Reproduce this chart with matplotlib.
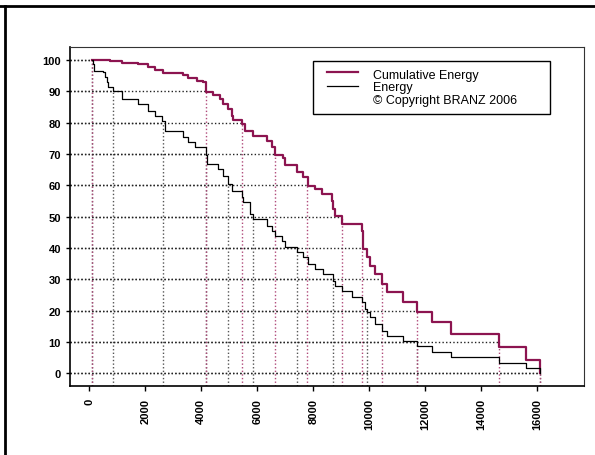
import numpy as np
import matplotlib.pyplot as plt
from matplotlib.lines import Line2D
from matplotlib.patches import Rectangle

plt.rcParams['font.family'] = ['Liberation Sans', 'DejaVu Sans']

# cumulative energy curve (step positions, value after each step)
cum_x = [107, 740, 1160, 1740, 2100, 2350, 2630, 3350, 3530, 3850, 4050, 4170,
         4420, 4670, 4780, 4960, 5100, 5140, 5450, 5565, 5850, 6350, 6520, 6640,
         6920, 7000, 7420, 7650, 7800, 8070, 8300, 8660, 8720, 8780, 9020, 9730,
         9790, 9914, 10033, 10212, 10451, 10629, 11222, 11701, 12237, 12916,
         14643, 15608, 16108]
cum_y = [100, 99.7, 99.0, 98.7, 97.7, 96.9, 95.8, 95.2, 94.3, 93.3, 92.8, 89.9,
         88.9, 87.5, 86.0, 84.4, 82.2, 80.8, 79.6, 77.4, 75.8, 74.2, 72.2, 69.5,
         68.6, 66.3, 64.2, 62.6, 59.8, 58.8, 57.2, 55.1, 52.4, 50.3, 47.6, 45.3,
         39.8, 37.0, 34.3, 31.7, 28.5, 25.9, 22.7, 19.5, 16.3, 12.5,
         8.5, 4.2, 0]

# energy curve
en_x = [107, 143, 179, 500, 561, 622, 679, 836, 1158, 1751, 2109, 2348, 2588,
        2705, 3360, 3538, 3778, 4160, 4196, 4610, 4789, 4968, 5089, 5447, 5504,
        5740, 5861, 6340, 6519, 6637, 6876, 6994, 7412, 7648, 7827, 8067, 8363,
        8721, 8781, 9021, 9378, 9736, 9853, 9914, 10033, 10212, 10451, 10629,
        11222, 11701, 12237, 12916, 14643, 15608, 16108]
en_y = [100, 98.7, 96.6, 96.1, 94.5, 92.9, 91.3, 90.2, 87.6, 86.0, 83.8, 82.2,
        80.6, 77.4, 75.3, 73.7, 72.1, 69.5, 66.8, 65.2, 63.1, 60.4, 58.3, 56.2,
        54.6, 50.8, 49.2, 47.1, 45.5, 43.9, 42.3, 40.2, 38.6, 37.0, 34.9, 33.3,
        31.7, 29.6, 28.0, 26.4, 24.3, 22.7, 20.5, 19.5, 17.9, 15.7, 13.6, 12.0,
        10.4, 8.8, 6.7, 5.1, 3.2, 1.6, 0]

# where each curve reaches the percent levels
levels = [100, 90, 80, 70, 60, 50, 40, 30, 20, 10, 0]
cum_cross = [107, 4170, 5447, 6637, 7798, 9021, 9760, 10447, 11698, 14642, 16108]
en_cross = [107, 836, 2634, 4165, 4968, 5861, 7412, 8721, 9914, 11701, 16108]

purple = '#8c1450'
dot = (0, (1, 1.6))

fig = plt.figure(figsize=(5.95, 4.56), dpi=100)
ax = fig.add_axes([70/595, 1-387/456, 514/595, 339/456])
ax.set_xlim(-690, 17680)
ax.set_ylim(-4.05, 104.1)
x0 = ax.get_xlim()[0]
y0 = ax.get_ylim()[0]

for lev, xc in zip(levels, en_cross):
    ax.plot([x0, xc], [lev, lev], color='#222222', lw=1.0, ls=dot, zorder=1)
    ax.plot([xc, xc], [y0, lev], color='#555555', lw=1.0, ls=dot, zorder=1)
for lev, xc in zip(levels, cum_cross):
    ax.plot([x0, xc], [lev, lev], color='#222222', lw=1.0, ls=dot, zorder=1)
    ax.plot([xc, xc], [y0, lev], color='#b04a7a', lw=1.0, ls=dot, zorder=1)

ax.step(cum_x, cum_y, where='post', color=purple, lw=1.6, zorder=3)
ax.step(en_x, en_y, where='post', color='black', lw=0.9, zorder=3)

ax.set_yticks(range(0, 101, 10))
ax.set_xticks(range(0, 16001, 2000))
ax.set_xticklabels([str(v) for v in range(0, 16001, 2000)], rotation=90)
for lab in ax.get_xticklabels() + ax.get_yticklabels():
    lab.set_fontweight('bold')
    lab.set_fontsize(8)
ax.tick_params(axis='y', length=3, width=1, pad=3.5)
ax.tick_params(axis='x', length=3.6, width=1, pad=5)

for s in ['left', 'bottom']:
    ax.spines[s].set_linewidth(1.2)
for s in ['top', 'right']:
    ax.spines[s].set_linewidth(0.8)
    ax.spines[s].set_color('#333333')

# legend box
ax.add_patch(Rectangle((0.473, 0.802), 0.461, 0.157, transform=ax.transAxes,
                       facecolor='white', edgecolor='black', lw=1, zorder=5))
ax.plot([0.5, 0.56], [0.925, 0.925], transform=ax.transAxes, color=purple, lw=1.6, zorder=6)
ax.plot([0.5, 0.56], [0.884, 0.884], transform=ax.transAxes, color='black', lw=0.9, zorder=6)
ax.text(0.589, 0.9086, 'Cumulative Energy', transform=ax.transAxes, fontsize=9, va='baseline', zorder=6)
ax.text(0.589, 0.8717, 'Energy', transform=ax.transAxes, fontsize=9, va='baseline', zorder=6)
ax.text(0.589, 0.8348, '\u00a9 Copyright BRANZ 2006', transform=ax.transAxes, fontsize=9, va='baseline', zorder=6)

# page frame lines
fig.add_artist(Line2D([0, 1], [1-7/456, 1-7/456], transform=fig.transFigure, color='black', lw=2))
fig.add_artist(Line2D([5/595, 5/595], [0, 1-7/456], transform=fig.transFigure, color='black', lw=2))

fig.savefig('out.png', dpi=100)
